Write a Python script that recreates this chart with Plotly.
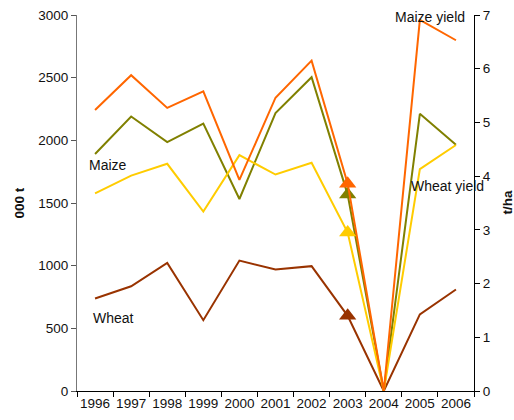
import plotly.graph_objects as go

years = ["1996", "1997", "1998", "1999", "2000", "2001", "2002", "2003", "2004", "2005", "2006"]
maize = [1891, 2190, 1986, 2134, 1532, 2217, 2504, 1567, 0, 2212, 1965]
wheat = [738, 836, 1022, 565, 1041, 969, 996, 600, 0, 611, 810]
maize_yield = [5.23, 5.88, 5.27, 5.58, 3.93, 5.46, 6.15, 3.86, 0, 6.91, 6.53]
wheat_yield = [3.68, 4.01, 4.23, 3.34, 4.39, 4.03, 4.25, 2.95, 0, 4.13, 4.58]
marked_year = "2003"

left_ticks = [0, 500, 1000, 1500, 2000, 2500, 3000]
right_ticks = [0, 1, 2, 3, 4, 5, 6, 7]

FONT = "Liberation Sans, Arial, sans-serif"
mi = years.index(marked_year)

series = [("Wheat", wheat, "#993300", "y"),
          ("Maize", maize, "#808000", "y"),
          ("Wheat yield", wheat_yield, "#FFCC00", "y2"),
          ("Maize yield", maize_yield, "#FF6600", "y2")]

fig = go.Figure()
for name, vals, color, axis in series:
    fig.add_trace(go.Scatter(
        x=years, y=vals, name=name, yaxis=axis, mode="lines",
        line=dict(color=color, width=2), showlegend=False, hoverinfo="skip"))
for name, vals, color, axis in [series[0], series[2], series[1], series[3]]:
    fig.add_trace(go.Scatter(
        x=[years[mi]], y=[vals[mi]], yaxis=axis, mode="markers",
        marker=dict(symbol="triangle-up", size=15, color=color, line=dict(width=0)),
        showlegend=False, hoverinfo="skip", cliponaxis=False))

fig.update_layout(
    width=514, height=420,
    margin=dict(l=77, r=40, t=15, b=29),
    paper_bgcolor="white", plot_bgcolor="white",
    font=dict(family=FONT, size=13.5, color="#111111"),
    xaxis=dict(type="category", range=[-0.5, 10.5], tickson="boundaries",
               ticks="outside", ticklen=5, tickcolor="black", showline=True,
               linecolor="black", linewidth=1, showgrid=False, zeroline=False,
               tickangle=0, automargin=False, tickfont=dict(size=13.5),
               ticklabeloverflow="allow"),
    yaxis=dict(range=[0, 3000], tickvals=left_ticks, ticks="outside", ticklen=5,
               tickcolor="#555555", showline=True, linecolor="#777777", linewidth=1,
               showgrid=False, zeroline=False, tickfont=dict(size=13.5), automargin=False,
               ticklabeloverflow="allow"),
    yaxis2=dict(range=[0, 7], tickvals=right_ticks, overlaying="y", side="right",
                ticks="outside", ticklen=5, tickcolor="black", showline=True,
                linecolor="black", linewidth=1, showgrid=False, zeroline=False,
                tickfont=dict(size=13.5), automargin=False, ticklabeloverflow="allow"),
)

ann = [("Maize", 0.026, 0.602), ("Wheat", 0.0345, 0.195),
       ("Maize yield", 0.795, 0.995), ("Wheat yield", 0.837, 0.544)]
for text, x, y in ann:
    fig.add_annotation(text=text, x=x, y=y, xref="paper", yref="paper",
                       xanchor="left", yanchor="middle", showarrow=False,
                       font=dict(size=14, family=FONT, color="#111111"))

for text, x in [("<b>000 t</b>", -0.1436), ("<b>t/ha</b>", 1.0856)]:
    fig.add_annotation(text=text, x=x, y=0.501, xref="paper", yref="paper",
                       xanchor="center", yanchor="middle", showarrow=False,
                       textangle=-90, font=dict(size=13.5, family=FONT, color="#111111"))

fig.write_html("out.html", config={"displayModeBar": False},
               post_script="document.body.style.margin='0';document.body.style.overflow='hidden';")
